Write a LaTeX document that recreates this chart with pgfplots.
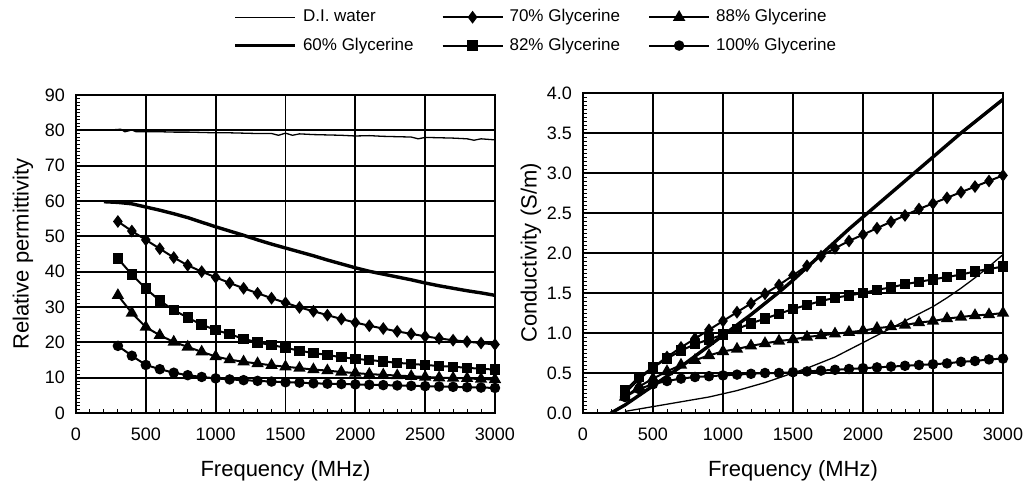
\documentclass[border=0pt]{standalone}
\usepackage{fontspec}
\setmainfont{Liberation Sans}
\usepackage{pgfplots}
\usepackage{pgfplotstable}
\pgfplotsset{compat=1.18}

% Relative permittivity versus frequency
\pgfplotstableread{
f     e60   e70   e82   e88   e100
200   59.8  nan   nan   nan   nan
300   59.6  54.2  43.7  33.3  19.0
400   59.2  51.5  39.2  28.3  16.2
500   58.3  49.0  35.2  24.3  13.6
600   57.4  46.5  31.8  22.0  12.4
700   56.4  44.0  29.1  20.1  11.4
800   55.3  41.8  27.0  18.7  10.7
900   54.0  40.0  25.0  17.3  10.2
1000  52.7  38.4  23.5  16.0  9.8
1100  51.5  36.8  22.3  15.1  9.5
1200  50.3  35.3  21.0  14.5  9.3
1300  49.0  33.9  20.0  14.0  9.1
1400  47.8  32.5  19.2  13.5  8.9
1500  46.7  31.2  18.5  13.1  8.7
1600  45.6  29.9  17.6  12.7  8.6
1700  44.5  28.8  17.0  12.3  8.4
1800  43.3  27.7  16.4  12.0  8.3
1900  42.2  26.6  15.8  11.6  8.2
2000  41.1  25.6  15.3  11.3  8.1
2100  40.1  24.7  15.0  11.0  8.0
2200  39.3  23.9  14.6  10.8  7.9
2300  38.5  23.1  14.2  10.6  7.8
2400  37.7  22.4  13.9  10.4  7.7
2500  36.8  21.7  13.6  10.2  7.6
2600  36.0  21.1  13.3  10.0  7.5
2700  35.3  20.6  13.1  9.9   7.4
2800  34.6  20.2  12.8  9.8   7.3
2900  34.0  19.8  12.5  9.6   7.2
3000  33.3  19.4  12.3  9.5   7.1
}\permtab

% Relative permittivity of deionised water
\pgfplotstableread{
f     edi
280   80.2
320   80.3
350   79.6
400   80.1
430   79.6
500   79.6
600   79.6
700   79.5
800   79.5
900   79.4
1000  79.3
1100  79.3
1200  79.2
1300  79.1
1400  79.1
1450  78.6
1500  79.2
1550  78.6
1600  79.0
1700  78.8
1800  78.7
1900  78.6
2000  78.4
2100  78.5
2200  78.3
2300  78.2
2400  78.1
2450  77.6
2500  78.0
2600  77.9
2700  77.8
2800  77.6
2850  77.2
2900  77.6
3000  77.3
}\permdi

% Conductivity (S/m) versus frequency
\pgfplotstableread{
f     s60   s70   s82   s88   s100  sdi
200   0.00  nan   nan   nan   nan   nan
300   0.10  0.25  0.28  0.20  0.20  0.02
400   0.22  0.42  0.45  0.33  0.30  0.05
500   0.34  0.57  0.57  0.43  0.36  0.08
600   0.46  0.70  0.68  0.52  0.40  0.11
700   0.58  0.82  0.78  0.60  0.43  0.14
800   0.71  0.93  0.86  0.66  0.45  0.17
900   0.84  1.04  0.92  0.72  0.46  0.20
1000  0.97  1.15  0.98  0.77  0.47  0.24
1100  1.10  1.26  1.05  0.80  0.48  0.28
1200  1.23  1.37  1.12  0.84  0.49  0.33
1300  1.37  1.49  1.18  0.87  0.50  0.38
1400  1.51  1.60  1.24  0.90  0.50  0.44
1500  1.66  1.72  1.30  0.92  0.51  0.50
1600  1.82  1.84  1.35  0.95  0.52  0.56
1700  1.98  1.96  1.40  0.97  0.53  0.63
1800  2.14  2.06  1.44  0.99  0.54  0.70
1900  2.30  2.15  1.47  1.01  0.55  0.79
2000  2.45  2.23  1.50  1.03  0.56  0.88
2100  2.60  2.31  1.54  1.06  0.57  0.97
2200  2.75  2.39  1.57  1.08  0.58  1.06
2300  2.90  2.47  1.61  1.10  0.59  1.15
2400  3.05  2.55  1.64  1.13  0.60  1.24
2500  3.20  2.62  1.67  1.15  0.61  1.33
2600  3.35  2.69  1.70  1.18  0.62  1.44
2700  3.50  2.76  1.73  1.20  0.64  1.56
2800  3.64  2.83  1.77  1.22  0.65  1.69
2900  3.78  2.90  1.80  1.23  0.67  1.83
3000  3.92  2.97  1.83  1.25  0.68  1.98
}\condtab

\pgfplotsset{
  freqaxis/.style={
    scale only axis,
    xmin=0, xmax=3000,
    xtick={0,500,...,3000},
    minor x tick num=4,
    grid=major,
    major grid style={black, line width=0.85pt},
    axis line style={black, line width=1pt},
    tick align=inside,
    tick pos=left,
    major tick length=0pt,
    minor tick length=2pt,
    minor tick style={black, line width=0.5pt},
    tick label style={font=\fontsize{9}{10}\selectfont},
    label style={font=\fontsize{11}{13}\selectfont},
    /pgf/number format/assume math mode=true,
    /pgf/number format/1000 sep={},
    xticklabel style={yshift=-4pt},
    yticklabel style={xshift=-2pt},
    xlabel={Frequency (MHz)},
    xlabel style={yshift=-3pt},
    legend image code/.code={%
      \draw[mark repeat=2,mark phase=2] plot coordinates {(0pt,0pt) (15pt,0pt) (30pt,0pt)};},
  },
  di/.style={black, line width=0.65pt, no marks},
  g60/.style={black, line width=1.7pt, no marks},
  g70/.style={black, line width=1pt, mark=diamond*, mark size=2.4pt, mark options={solid}},
  g82/.style={black, line width=1pt, mark=square*, mark size=2.1pt, mark options={solid}},
  g88/.style={black, line width=1pt, mark=triangle*, mark size=2.6pt, mark options={solid}},
  g100/.style={black, line width=1pt, mark=*, mark size=2.1pt, mark options={solid}},
}

\begin{document}
\begin{tikzpicture}
\useasboundingbox (-38pt,-38pt) rectangle (474.5pt,206.5pt);

\begin{axis}[freqaxis,
  at={(0pt,0pt)}, anchor=south west,
  width=209.5pt, height=159pt,
  ymin=0, ymax=90, ytick={0,10,...,90},
  minor y tick num=9,
  ylabel={Relative permittivity},
  ylabel style={yshift=-1pt},
  legend columns=3,
  legend cell align=left,
  legend style={at={(1.1,1.2)}, anchor=center, draw=none, fill=none,
    font=\fontsize{8.5}{10}\selectfont,
    /tikz/every even column/.append style={column sep=12pt},
    /tikz/every odd column/.append style={column sep=1pt},
    row sep=2.5pt},
]
\addplot[di]   table[x=f, y=edi]  {\permdi};
\addlegendentry{D.I. water}
\addplot[g70]  table[x=f, y=e70]  {\permtab};
\addlegendentry{70\% Glycerine}
\addplot[g88]  table[x=f, y=e88]  {\permtab};
\addlegendentry{88\% Glycerine}
\addplot[g60]  table[x=f, y=e60]  {\permtab};
\addlegendentry{60\% Glycerine}
\addplot[g82]  table[x=f, y=e82]  {\permtab};
\addlegendentry{82\% Glycerine}
\addplot[g100] table[x=f, y=e100] {\permtab};
\addlegendentry{100\% Glycerine}
\end{axis}

\begin{axis}[freqaxis,
  at={(253.5pt,0pt)}, anchor=south west,
  width=210pt, height=160pt,
  ymin=0, ymax=4, ytick={0,0.5,...,4},
  minor y tick num=9,
  yticklabel style={/pgf/number format/.cd, fixed, fixed zerofill, precision=1},
  ylabel={Conductivity (S/m)},
  ylabel style={yshift=-4pt},
]
\addplot[di]   table[x=f, y=sdi]  {\condtab};
\addplot[g60]  table[x=f, y=s60]  {\condtab};
\addplot[g70]  table[x=f, y=s70]  {\condtab};
\addplot[g82]  table[x=f, y=s82]  {\condtab};
\addplot[g88]  table[x=f, y=s88]  {\condtab};
\addplot[g100] table[x=f, y=s100] {\condtab};
\end{axis}
\end{tikzpicture}
\end{document}
